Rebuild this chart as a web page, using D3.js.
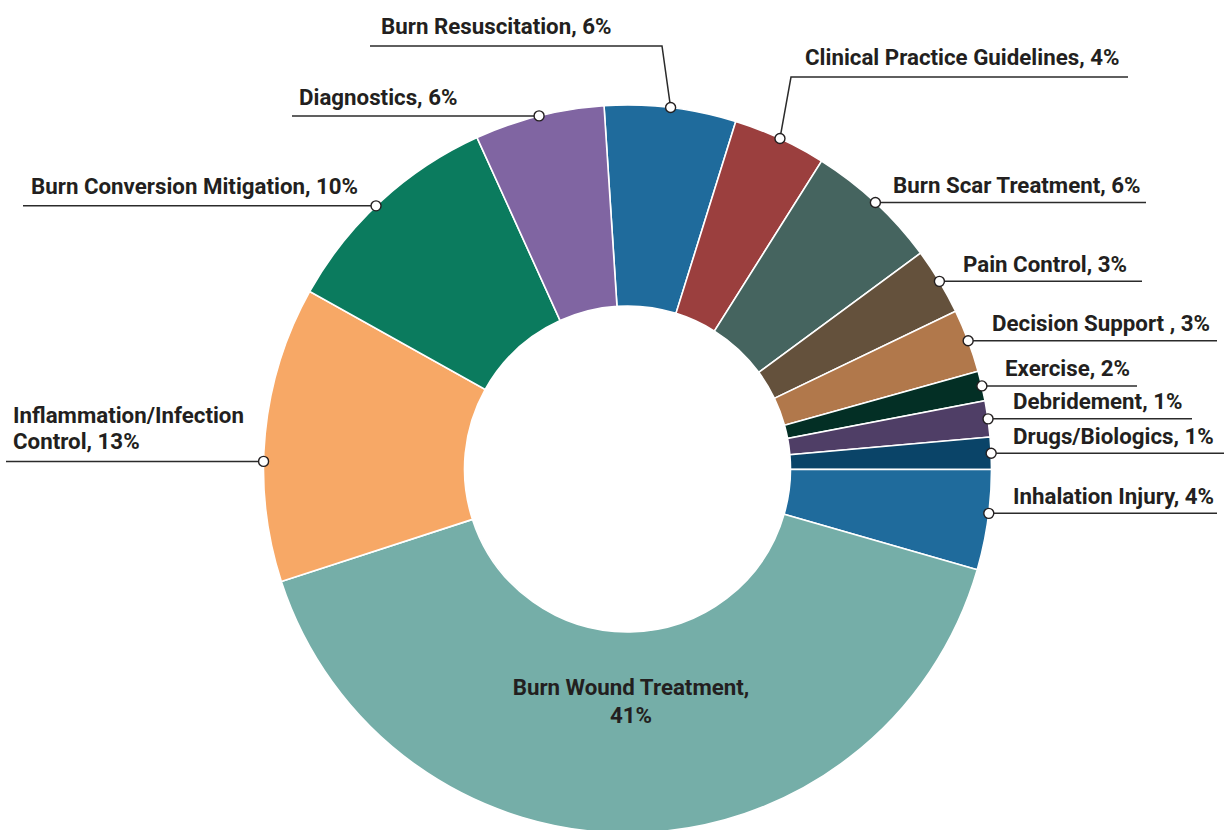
<!DOCTYPE html>
<html>
<head>
<meta charset="utf-8">
<script src="https://cdn.jsdelivr.net/npm/d3@7"></script>
<style>
  html, body { margin: 0; padding: 0; background: #fff; }
  svg { display: block; }
  text { font-family: Roboto, "Liberation Sans Narrow", sans-serif; font-weight: 700; fill: #231f20; }
</style>
</head>
<body>
<svg id="chart" width="1224" height="830"></svg>
<script>
// ---- data ----
const categories = [
  "Burn Resuscitation", "Clinical Practice Guidelines", "Burn Scar Treatment",
  "Pain Control", "Decision Support ", "Exercise", "Debridement",
  "Drugs/Biologics", "Inhalation Injury", "Burn Wound Treatment",
  "Inflammation/Infection Control", "Burn Conversion Mitigation", "Diagnostics"
];
const values = [5.83, 4.14, 5.94, 2.97, 2.8, 1.33, 1.6, 1.42, 4.44, 40.5, 13.1, 10.1, 5.75];
const percentLabels = ["6%", "4%", "6%", "3%", "3%", "2%", "1%", "1%", "4%", "41%", "13%", "10%", "6%"];
const colors = [
  "#1f6b9c", "#9b3f3e", "#45645f", "#64513c", "#b1784b", "#032f25", "#4f3e66",
  "#0a4468", "#1f6b9c", "#75aea8", "#f7a866", "#0b7b5e", "#8065a2"
];

// ---- layout (label placement) ----
const labelLayout = [
  { elbow: [662, 46], endX: 370,  textX: 381, gap: 12.5 },
  { elbow: [791, 77], endX: 1128, textX: 805, gap: 12 },
  { endX: 1146, textX: 893 },
  { endX: 1142, textX: 963 },
  { endX: 1217, textX: 992 },
  { endX: 1137, textX: 1005 },
  { endX: 1192, textX: 1013 },
  { endX: 1224, textX: 1013 },
  { endX: 1217, textX: 1013, dotAngle: 97 },
  { inside: true, x: 631, y: 695 },
  { endX: 6, textX: 13, dotAngle: 271.2, gap: 12, lines: ["Inflammation/Infection", "Control, 13%"] },
  { endX: 23, textX: 31, dotAngle: 316.3, gap: 12 },
  { endX: 292, textX: 299, gap: 11 }
];

const cx = 627.5, cy = 469, outerR = 364, innerR = 163;
const deg = Math.PI / 180;
const start = -3.7 * deg;

const svg = d3.select("#chart");
const g = svg.append("g").attr("transform", `translate(${cx},${cy})`);

const pie = d3.pie().sort(null).value(d => d.value).startAngle(start).endAngle(start + 2 * Math.PI);
const data = categories.map((c, i) => ({ name: c, value: values[i], color: colors[i], pct: percentLabels[i], lay: labelLayout[i] }));
const arcs = pie(data);
const arc = d3.arc().innerRadius(innerR).outerRadius(outerR);

g.selectAll("path.slice").data(arcs).enter().append("path")
  .attr("class", "slice")
  .attr("d", arc)
  .attr("fill", d => d.data.color)
  .attr("stroke", "#fff")
  .attr("stroke-width", 1.6);

const fs = 22.3;
const lg = svg.append("g");
arcs.forEach(a => {
  const lay = a.data.lay;
  const mid = lay.dotAngle != null ? lay.dotAngle * deg : (a.startAngle + a.endAngle) / 2;
  if (lay.inside) {
    const t = lg.append("text").attr("text-anchor", "middle").style("font-size", fs + "px");
    t.append("tspan").attr("x", lay.x).attr("y", lay.y).text(a.data.name + ",");
    t.append("tspan").attr("x", lay.x).attr("y", lay.y + 28).text(a.data.pct);
    return;
  }
  const px = cx + outerR * Math.sin(mid);
  const py = cy - outerR * Math.cos(mid);
  let pts = [[px, py]];
  let ly = py;
  if (lay.elbow) { pts.push(lay.elbow); ly = lay.elbow[1]; }
  pts.push([lay.endX, ly]);
  const gap = lay.gap != null ? lay.gap : 9.5;
  lg.append("path")
    .attr("d", d3.line()(pts))
    .attr("fill", "none")
    .attr("stroke", "#2b2b2b")
    .attr("stroke-width", 1.5);
  if (lay.lines) {
    const t = lg.append("text").style("font-size", fs + "px");
    lay.lines.forEach((ln, k) => {
      t.append("tspan").attr("x", lay.textX).attr("y", ly - gap - (lay.lines.length - 1 - k) * 26.7).text(ln);
    });
  } else {
    lg.append("text")
      .attr("x", lay.textX).attr("y", ly - gap)
      .style("font-size", fs + "px")
      .text(a.data.name + ", " + a.data.pct);
  }
  lg.append("circle")
    .attr("cx", px).attr("cy", py).attr("r", 5)
    .attr("fill", "#fff").attr("stroke", "#231f20").attr("stroke-width", 1.4);
});
</script>
</body>
</html>
